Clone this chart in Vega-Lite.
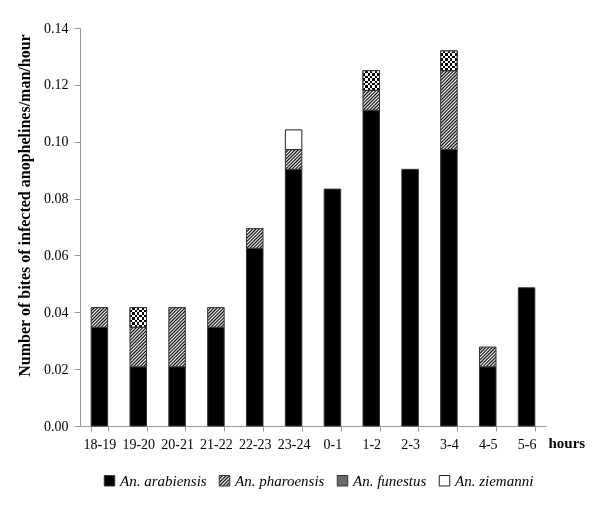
{
  "$schema": "https://vega.github.io/schema/vega-lite/v6.json",
  "width": 466,
  "height": 398,
  "autosize": {"type": "none"},
  "padding": {"left": 80, "top": 28, "right": 54, "bottom": 79},
  "background": "white",
  "config": {
    "view": {"stroke": null},
    "axis": {"domainColor": "#999999", "tickColor": "#999999", "labelFont": "Liberation Serif", "labelFontSize": 14, "labelColor": "#000000", "titleFont": "Liberation Serif", "titleFontWeight": "bold", "titleColor": "#000000", "grid": false},
    "legend": {"orient": "none", "legendX": 22, "legendY": 445, "direction": "horizontal", "symbolType": "square", "symbolSize": 110, "symbolStrokeWidth": 1, "labelFont": "Liberation Serif", "labelFontStyle": "italic", "labelFontSize": 15, "labelColor": "#000000", "labelOffset": 3, "columnPadding": 10, "padding": 0}
  },
  "data": {
    "values": [
      {"hour": "18-19", "species": "An. arabiensis", "value": 0.03472},
      {"hour": "18-19", "species": "An. pharoensis", "value": 0.00694},
      {"hour": "19-20", "species": "An. arabiensis", "value": 0.02083},
      {"hour": "19-20", "species": "An. pharoensis", "value": 0.01389},
      {"hour": "19-20", "species": "An. funestus", "value": 0.00694},
      {"hour": "20-21", "species": "An. arabiensis", "value": 0.02083},
      {"hour": "20-21", "species": "An. pharoensis", "value": 0.02083},
      {"hour": "21-22", "species": "An. arabiensis", "value": 0.03472},
      {"hour": "21-22", "species": "An. pharoensis", "value": 0.00694},
      {"hour": "22-23", "species": "An. arabiensis", "value": 0.0625},
      {"hour": "22-23", "species": "An. pharoensis", "value": 0.00694},
      {"hour": "23-24", "species": "An. arabiensis", "value": 0.09028},
      {"hour": "23-24", "species": "An. pharoensis", "value": 0.00694},
      {"hour": "23-24", "species": "An. ziemanni", "value": 0.00694},
      {"hour": "0-1", "species": "An. arabiensis", "value": 0.08333},
      {"hour": "1-2", "species": "An. arabiensis", "value": 0.11111},
      {"hour": "1-2", "species": "An. pharoensis", "value": 0.00694},
      {"hour": "1-2", "species": "An. funestus", "value": 0.00694},
      {"hour": "2-3", "species": "An. arabiensis", "value": 0.09028},
      {"hour": "3-4", "species": "An. arabiensis", "value": 0.09722},
      {"hour": "3-4", "species": "An. pharoensis", "value": 0.02778},
      {"hour": "3-4", "species": "An. funestus", "value": 0.00694},
      {"hour": "4-5", "species": "An. arabiensis", "value": 0.02083},
      {"hour": "4-5", "species": "An. pharoensis", "value": 0.00694},
      {"hour": "5-6", "species": "An. arabiensis", "value": 0.04861}
    ]
  },
  "transform": [
    {"calculate": "indexof(['An. arabiensis','An. pharoensis','An. funestus','An. ziemanni'], datum.species)", "as": "ord"},
    {"stack": "value", "groupby": ["hour"], "sort": [{"field": "ord", "order": "ascending"}], "as": ["v0", "v1"]}
  ],
  "encoding": {
    "x": {
      "field": "hour", "type": "ordinal",
      "sort": ["18-19","19-20","20-21","21-22","22-23","23-24","0-1","1-2","2-3","3-4","4-5","5-6"],
      "scale": {"paddingInner": 0.575, "paddingOuter": 0.2875},
      "axis": {"title": "hours", "labelAngle": 0, "tickBand": "extent", "tickSize": 5, "labelPadding": 6, "titleAlign": "left", "titleX": 468, "titleY": 21, "titleBaseline": "alphabetic", "titleFontSize": 15}
    },
    "y": {
      "field": "v1", "type": "quantitative",
      "scale": {"domain": [0, 0.14], "nice": false},
      "axis": {"title": "Number of bites of infected anophelines/man/hour", "values": [0, 0.02, 0.04, 0.06, 0.08, 0.1, 0.12, 0.14], "format": ".2f", "tickSize": 6, "labelPadding": 6, "titleFontSize": 16, "titleX": -51, "titleY": 177, "titleAlign": "center", "titleAngle": -90, "titleBaseline": "alphabetic"}
    },
    "y2": {"field": "v0"}
  },
  "layer": [
    {
      "mark": {"type": "bar", "strokeWidth": 1},
      "encoding": {
        "stroke": {
          "field": "species", "type": "nominal",
          "scale": {"domain": ["An. arabiensis", "An. pharoensis", "An. funestus", "An. ziemanni"], "range": ["#333333", "#333333", "#333333", "#222222"]},
          "legend": {"title": null}
        },
        "fill": {
          "condition": [
            {"test": "datum.species === 'An. pharoensis' && datum.value < 0.01", "value": {"gradient": "linear", "x1": 0, "y1": 0, "x2": 0.9036, "y2": 1.0807, "stops": [
              {"offset": 0, "color": "#000000"}, {"offset": 0.0455, "color": "#ffffff"}, {"offset": 0.0909, "color": "#000000"}, {"offset": 0.1364, "color": "#ffffff"}, {"offset": 0.1818, "color": "#000000"}, {"offset": 0.2273, "color": "#ffffff"}, {"offset": 0.2727, "color": "#000000"}, {"offset": 0.3182, "color": "#ffffff"}, {"offset": 0.3636, "color": "#000000"}, {"offset": 0.4091, "color": "#ffffff"}, {"offset": 0.4545, "color": "#000000"}, {"offset": 0.5, "color": "#ffffff"}, {"offset": 0.5455, "color": "#000000"}, {"offset": 0.5909, "color": "#ffffff"}, {"offset": 0.6364, "color": "#000000"}, {"offset": 0.6818, "color": "#ffffff"}, {"offset": 0.7273, "color": "#000000"}, {"offset": 0.7727, "color": "#ffffff"}, {"offset": 0.8182, "color": "#000000"}, {"offset": 0.8636, "color": "#ffffff"}, {"offset": 0.9091, "color": "#000000"}, {"offset": 0.9545, "color": "#ffffff"}, {"offset": 1, "color": "#000000"}
            ]}},
            {"test": "datum.species === 'An. pharoensis' && datum.value < 0.017", "value": {"gradient": "linear", "x1": 0, "y1": 0, "x2": 0.5046, "y2": 1.207, "stops": [
              {"offset": 0, "color": "#000000"}, {"offset": 0.0294, "color": "#ffffff"}, {"offset": 0.0588, "color": "#000000"}, {"offset": 0.0882, "color": "#ffffff"}, {"offset": 0.1176, "color": "#000000"}, {"offset": 0.1471, "color": "#ffffff"}, {"offset": 0.1765, "color": "#000000"}, {"offset": 0.2059, "color": "#ffffff"}, {"offset": 0.2353, "color": "#000000"}, {"offset": 0.2647, "color": "#ffffff"}, {"offset": 0.2941, "color": "#000000"}, {"offset": 0.3235, "color": "#ffffff"}, {"offset": 0.3529, "color": "#000000"}, {"offset": 0.3824, "color": "#ffffff"}, {"offset": 0.4118, "color": "#000000"}, {"offset": 0.4412, "color": "#ffffff"}, {"offset": 0.4706, "color": "#000000"}, {"offset": 0.5, "color": "#ffffff"}, {"offset": 0.5294, "color": "#000000"}, {"offset": 0.5588, "color": "#ffffff"}, {"offset": 0.5882, "color": "#000000"}, {"offset": 0.6176, "color": "#ffffff"}, {"offset": 0.6471, "color": "#000000"}, {"offset": 0.6765, "color": "#ffffff"}, {"offset": 0.7059, "color": "#000000"}, {"offset": 0.7353, "color": "#ffffff"}, {"offset": 0.7647, "color": "#000000"}, {"offset": 0.7941, "color": "#ffffff"}, {"offset": 0.8235, "color": "#000000"}, {"offset": 0.8529, "color": "#ffffff"}, {"offset": 0.8824, "color": "#000000"}, {"offset": 0.9118, "color": "#ffffff"}, {"offset": 0.9412, "color": "#000000"}, {"offset": 0.9706, "color": "#ffffff"}, {"offset": 1, "color": "#000000"}
            ]}},
            {"test": "datum.species === 'An. pharoensis' && datum.value < 0.024", "value": {"gradient": "linear", "x1": 0, "y1": 0, "x2": 0.3307, "y2": 1.1866, "stops": [
              {"offset": 0, "color": "#000000"}, {"offset": 0.0217, "color": "#ffffff"}, {"offset": 0.0435, "color": "#000000"}, {"offset": 0.0652, "color": "#ffffff"}, {"offset": 0.087, "color": "#000000"}, {"offset": 0.1087, "color": "#ffffff"}, {"offset": 0.1304, "color": "#000000"}, {"offset": 0.1522, "color": "#ffffff"}, {"offset": 0.1739, "color": "#000000"}, {"offset": 0.1957, "color": "#ffffff"}, {"offset": 0.2174, "color": "#000000"}, {"offset": 0.2391, "color": "#ffffff"}, {"offset": 0.2609, "color": "#000000"}, {"offset": 0.2826, "color": "#ffffff"}, {"offset": 0.3043, "color": "#000000"}, {"offset": 0.3261, "color": "#ffffff"}, {"offset": 0.3478, "color": "#000000"}, {"offset": 0.3696, "color": "#ffffff"}, {"offset": 0.3913, "color": "#000000"}, {"offset": 0.413, "color": "#ffffff"}, {"offset": 0.4348, "color": "#000000"}, {"offset": 0.4565, "color": "#ffffff"}, {"offset": 0.4783, "color": "#000000"}, {"offset": 0.5, "color": "#ffffff"}, {"offset": 0.5217, "color": "#000000"}, {"offset": 0.5435, "color": "#ffffff"}, {"offset": 0.5652, "color": "#000000"}, {"offset": 0.587, "color": "#ffffff"}, {"offset": 0.6087, "color": "#000000"}, {"offset": 0.6304, "color": "#ffffff"}, {"offset": 0.6522, "color": "#000000"}, {"offset": 0.6739, "color": "#ffffff"}, {"offset": 0.6957, "color": "#000000"}, {"offset": 0.7174, "color": "#ffffff"}, {"offset": 0.7391, "color": "#000000"}, {"offset": 0.7609, "color": "#ffffff"}, {"offset": 0.7826, "color": "#000000"}, {"offset": 0.8043, "color": "#ffffff"}, {"offset": 0.8261, "color": "#000000"}, {"offset": 0.8478, "color": "#ffffff"}, {"offset": 0.8696, "color": "#000000"}, {"offset": 0.8913, "color": "#ffffff"}, {"offset": 0.913, "color": "#000000"}, {"offset": 0.9348, "color": "#ffffff"}, {"offset": 0.9565, "color": "#000000"}, {"offset": 0.9783, "color": "#ffffff"}, {"offset": 1, "color": "#000000"}
            ]}},
            {"test": "datum.species === 'An. pharoensis'", "value": {"gradient": "linear", "x1": 0, "y1": 0, "x2": 0.2421, "y2": 1.1584, "stops": [
              {"offset": 0, "color": "#000000"}, {"offset": 0.0172, "color": "#ffffff"}, {"offset": 0.0345, "color": "#000000"}, {"offset": 0.0517, "color": "#ffffff"}, {"offset": 0.069, "color": "#000000"}, {"offset": 0.0862, "color": "#ffffff"}, {"offset": 0.1034, "color": "#000000"}, {"offset": 0.1207, "color": "#ffffff"}, {"offset": 0.1379, "color": "#000000"}, {"offset": 0.1552, "color": "#ffffff"}, {"offset": 0.1724, "color": "#000000"}, {"offset": 0.1897, "color": "#ffffff"}, {"offset": 0.2069, "color": "#000000"}, {"offset": 0.2241, "color": "#ffffff"}, {"offset": 0.2414, "color": "#000000"}, {"offset": 0.2586, "color": "#ffffff"}, {"offset": 0.2759, "color": "#000000"}, {"offset": 0.2931, "color": "#ffffff"}, {"offset": 0.3103, "color": "#000000"}, {"offset": 0.3276, "color": "#ffffff"}, {"offset": 0.3448, "color": "#000000"}, {"offset": 0.3621, "color": "#ffffff"}, {"offset": 0.3793, "color": "#000000"}, {"offset": 0.3966, "color": "#ffffff"}, {"offset": 0.4138, "color": "#000000"}, {"offset": 0.431, "color": "#ffffff"}, {"offset": 0.4483, "color": "#000000"}, {"offset": 0.4655, "color": "#ffffff"}, {"offset": 0.4828, "color": "#000000"}, {"offset": 0.5, "color": "#ffffff"}, {"offset": 0.5172, "color": "#000000"}, {"offset": 0.5345, "color": "#ffffff"}, {"offset": 0.5517, "color": "#000000"}, {"offset": 0.569, "color": "#ffffff"}, {"offset": 0.5862, "color": "#000000"}, {"offset": 0.6034, "color": "#ffffff"}, {"offset": 0.6207, "color": "#000000"}, {"offset": 0.6379, "color": "#ffffff"}, {"offset": 0.6552, "color": "#000000"}, {"offset": 0.6724, "color": "#ffffff"}, {"offset": 0.6897, "color": "#000000"}, {"offset": 0.7069, "color": "#ffffff"}, {"offset": 0.7241, "color": "#000000"}, {"offset": 0.7414, "color": "#ffffff"}, {"offset": 0.7586, "color": "#000000"}, {"offset": 0.7759, "color": "#ffffff"}, {"offset": 0.7931, "color": "#000000"}, {"offset": 0.8103, "color": "#ffffff"}, {"offset": 0.8276, "color": "#000000"}, {"offset": 0.8448, "color": "#ffffff"}, {"offset": 0.8621, "color": "#000000"}, {"offset": 0.8793, "color": "#ffffff"}, {"offset": 0.8966, "color": "#000000"}, {"offset": 0.9138, "color": "#ffffff"}, {"offset": 0.931, "color": "#000000"}, {"offset": 0.9483, "color": "#ffffff"}, {"offset": 0.9655, "color": "#000000"}, {"offset": 0.9828, "color": "#ffffff"}, {"offset": 1, "color": "#000000"}
            ]}},
            {"test": "datum.species === 'An. funestus'", "value": {"gradient": "linear", "x1": 0, "y1": 0, "x2": 1, "y2": 0, "stops": [
              {"offset": 0, "color": "#000000"}, {"offset": 0.1429, "color": "#000000"}, {"offset": 0.1429, "color": "#ffffff"}, {"offset": 0.2857, "color": "#ffffff"}, {"offset": 0.2857, "color": "#000000"}, {"offset": 0.4286, "color": "#000000"}, {"offset": 0.4286, "color": "#ffffff"}, {"offset": 0.5714, "color": "#ffffff"}, {"offset": 0.5714, "color": "#000000"}, {"offset": 0.7143, "color": "#000000"}, {"offset": 0.7143, "color": "#ffffff"}, {"offset": 0.8571, "color": "#ffffff"}, {"offset": 0.8571, "color": "#000000"}, {"offset": 1, "color": "#000000"}
            ]}}
          ],
          "field": "species", "type": "nominal",
          "scale": {
            "domain": ["An. arabiensis", "An. pharoensis", "An. funestus", "An. ziemanni"],
            "range": ["#000000", {"expr": "{gradient: 'linear', x1: 0, y1: 0, x2: 1, y2: 1, stops: [{offset: 0, color: '#000000'}, {offset: 0.0833, color: '#ffffff'}, {offset: 0.1667, color: '#000000'}, {offset: 0.25, color: '#ffffff'}, {offset: 0.3333, color: '#000000'}, {offset: 0.4167, color: '#ffffff'}, {offset: 0.5, color: '#000000'}, {offset: 0.5833, color: '#ffffff'}, {offset: 0.6667, color: '#000000'}, {offset: 0.75, color: '#ffffff'}, {offset: 0.8333, color: '#000000'}, {offset: 0.9167, color: '#ffffff'}, {offset: 1, color: '#000000'}]}"}, "#6a6a6a", "#ffffff"]
          },
          "legend": {"title": null}
        }
      }
    },
    {
      "transform": [{"filter": "datum.species === 'An. funestus'"}],
      "mark": {"type": "bar", "blend": "difference", "fill": {"gradient": "linear", "x1": 0, "y1": 0, "x2": 0, "y2": 1, "stops": [
        {"offset": 0, "color": "#ffffff"}, {"offset": 0.125, "color": "#ffffff"}, {"offset": 0.125, "color": "#000000"}, {"offset": 0.25, "color": "#000000"}, {"offset": 0.25, "color": "#ffffff"}, {"offset": 0.375, "color": "#ffffff"}, {"offset": 0.375, "color": "#000000"}, {"offset": 0.5, "color": "#000000"}, {"offset": 0.5, "color": "#ffffff"}, {"offset": 0.625, "color": "#ffffff"}, {"offset": 0.625, "color": "#000000"}, {"offset": 0.75, "color": "#000000"}, {"offset": 0.75, "color": "#ffffff"}, {"offset": 0.875, "color": "#ffffff"}, {"offset": 0.875, "color": "#000000"}, {"offset": 1, "color": "#000000"}
      ]}}
    },
    {
      "transform": [{"filter": "datum.species === 'An. funestus'"}],
      "mark": {"type": "bar", "filled": false, "stroke": "#333333", "strokeWidth": 1}
    }
  ]
}
